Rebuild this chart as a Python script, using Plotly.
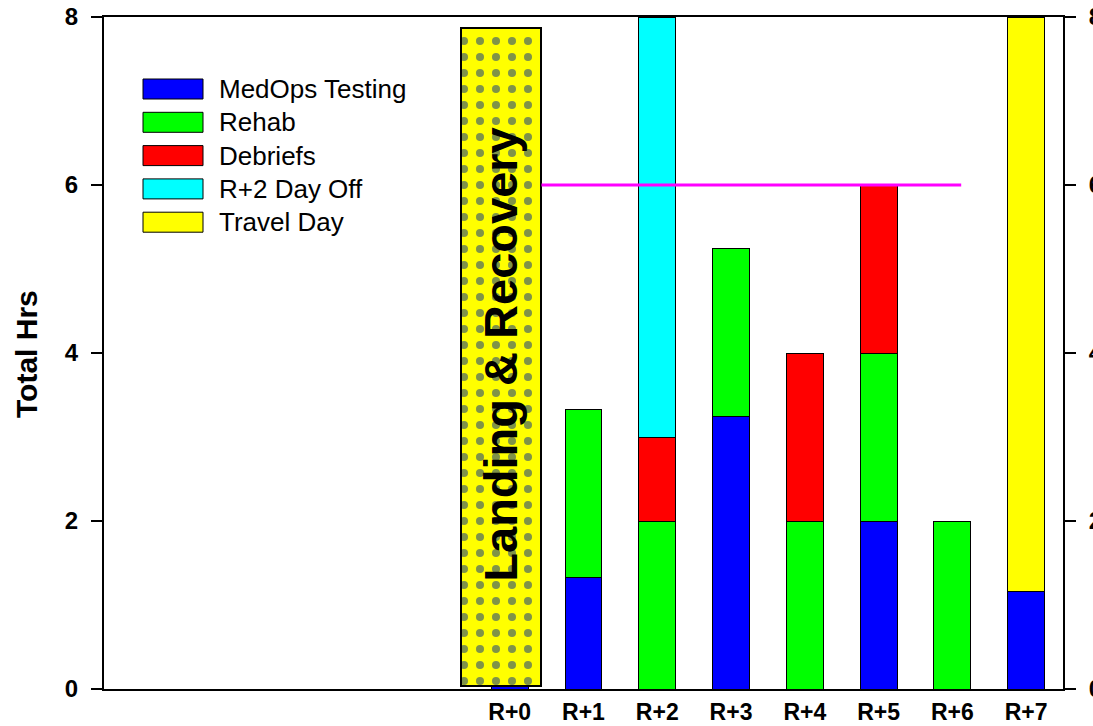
import plotly.graph_objects as go

# ---------------- data ----------------
positions = [-5, -4, -3, -2, -1, 0, 1, 2, 3, 4, 5, 6, 7]
tick_labels = ["", "", "", "", "", "R+0", "R+1", "R+2", "R+3", "R+4", "R+5", "R+6", "R+7"]

series_names = ["MedOps Testing", "Rehab", "Debriefs", "R+2 Day Off", "Travel Day"]
series_colors = ["#0000FF", "#00FF00", "#FF0000", "#00FFFF", "#FFFF00"]

medops  = [0, 0, 0, 0, 0, 2.5, 1.33, 0,    3.25, 0, 2, 0, 1.16]
rehab   = [0, 0, 0, 0, 0, 0,   2.0,  2,    2.0,  2, 2, 2, 0]
debrief = [0, 0, 0, 0, 0, 0,   0,    1,    0,    2, 2, 0, 0]
dayoff  = [0, 0, 0, 0, 0, 0,   0,    5,    0,    0, 0, 0, 0]
travel  = [0, 0, 0, 0, 0, 0,   0,    0,    0,    0, 0, 0, 6.84]
series_values = [medops, rehab, debrief, dayoff, travel]

target_x = [0.43, 6.12]
target_y = [6, 6]

box_x = -0.118
box_base = 0.036
box_top = 7.87
box_label = "Landing & Recovery"
box_label_y = 3.98

y_ticks = [0, 2, 4, 6, 8]

# ---------------- layout helpers ----------------
W, H = 1093, 726
ML, MR, MT, MB = 104, 30, 17, 37
PW, PH = W - ML - MR, H - MT - MB


def px_x(px):
    return (px - ML) / PW


def px_y(py):
    return (H - MB - py) / PH


FONT = "Liberation Sans, Arial, sans-serif"

fig = go.Figure()

for name, color, vals in zip(series_names, series_colors, series_values):
    fig.add_trace(go.Bar(
        x=positions, y=vals, name=name, width=0.5,
        marker=dict(color=color, line=dict(color="black", width=1)),
        showlegend=False, hoverinfo="skip",
    ))

# Landing & Recovery box
fig.add_trace(go.Bar(
    x=[box_x], y=[box_top - box_base], base=[box_base], width=1.083,
    marker=dict(color="#FFFF00", line=dict(color="black", width=2.5),
                pattern=dict(shape=".", fgcolor="#00288f", bgcolor="#FFFF00",
                             size=16, solidity=0.2)),
    showlegend=False, hoverinfo="skip",
))

fig.add_trace(go.Scatter(
    x=target_x, y=target_y, mode="lines",
    line=dict(color="#FF00FF", width=3), showlegend=False, yaxis="y2",
    hoverinfo="skip",
))

fig.add_annotation(
    x=box_x, y=box_label_y, xref="x", yref="y", text="<b>" + box_label + "</b>",
    textangle=-90, showarrow=False, font=dict(family=FONT, size=47, color="black"),
    xanchor="center", yanchor="middle",
)

# custom legend
for i, (name, color) in enumerate(zip(series_names, series_colors)):
    top = 79 + 33.3 * i
    fig.add_shape(type="rect", xref="paper", yref="paper",
                  x0=px_x(143), x1=px_x(203), y0=px_y(top + 20), y1=px_y(top),
                  fillcolor=color, line=dict(color="black", width=1))
    fig.add_annotation(x=px_x(217), y=px_y(top + 10), xref="paper", yref="paper",
                       text=name, showarrow=False, xanchor="left", yanchor="middle",
                       font=dict(family=FONT, size=26, color="black"))

# y title
fig.add_annotation(x=px_x(26), y=px_y(354), xref="paper", yref="paper",
                   text="<b>Total Hrs</b>", textangle=-90, showarrow=False,
                   font=dict(family=FONT, size=30, color="black"),
                   xanchor="center", yanchor="middle")

axis_font = dict(family=FONT, size=24, color="black", weight="bold")
x_font = dict(family=FONT, size=23, color="black", weight="bold")

fig.update_layout(
    width=W, height=H,
    margin=dict(l=ML, r=MR, t=MT, b=MB, pad=0, autoexpand=False),
    barmode="stack",
    plot_bgcolor="white", paper_bgcolor="white",
    font=dict(family=FONT, color="black"),
    xaxis=dict(
        range=[-5.5, 7.5], tickmode="array", tickvals=positions, ticktext=tick_labels,
        showgrid=False, zeroline=False, showline=True, linecolor="black", linewidth=2,
        mirror=True, ticks="", tickfont=x_font, ticklabelstandoff=1,
        automargin=False,
    ),
    yaxis=dict(
        range=[0, 8], tickvals=y_ticks, showgrid=False, zeroline=False,
        showline=True, linecolor="black", linewidth=2, ticks="outside", ticklen=11,
        tickwidth=1.5, tickcolor="black", tickfont=axis_font, ticklabelstandoff=8,
        automargin=False,
    ),
    yaxis2=dict(
        range=[0, 8], tickvals=y_ticks, overlaying="y", side="right", showgrid=False,
        zeroline=False, showline=True, linecolor="black", linewidth=2, ticks="outside",
        ticklen=11, tickwidth=1.5, tickcolor="black", tickfont=axis_font,
        ticklabelstandoff=8, automargin=False,
    ),
)

fig.write_html(
    "out.html",
    config={"displayModeBar": False},
    post_script="document.body.style.margin='0';document.body.style.overflow='hidden';",
)
